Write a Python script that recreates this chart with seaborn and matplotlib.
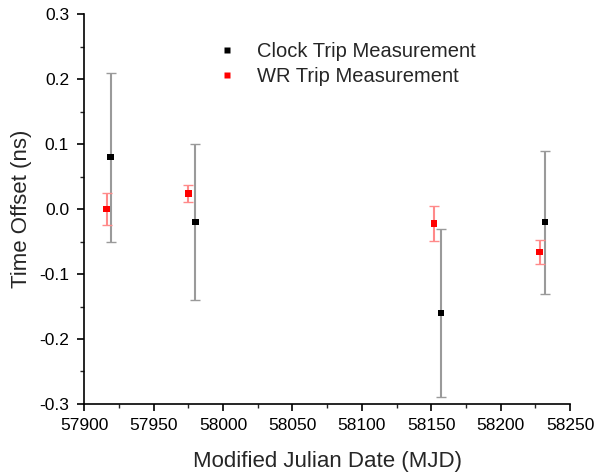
import pandas as pd
import seaborn as sns
import matplotlib
matplotlib.use('Agg')
from matplotlib import pyplot as plt
from matplotlib.ticker import MultipleLocator

# clock trip measurements
CLOCK_MJD = [57919, 57980, 58157, 58232]
CLOCK_OFFSET = [0.08, -0.02, -0.16, -0.02]
CLOCK_ERR = [0.13, 0.12, 0.13, 0.11]

# white rabbit trip measurements
WR_MJD = [57916, 57975, 58152, 58228]
WR_OFFSET = [0.0, 0.024, -0.022, -0.066]
WR_ERR = [0.025, 0.0125, 0.027, 0.019]

X_TICKS = [57900, 57950, 58000, 58050, 58100, 58150, 58200, 58250]
Y_TICKS = [-0.3, -0.2, -0.1, 0.0, 0.1, 0.2, 0.3]


def main():
    sns.set_style('ticks')
    plt.rcParams['font.family'] = ['Liberation Sans', 'DejaVu Sans']

    clock = pd.DataFrame({'MJD': CLOCK_MJD, 'OFFSET': CLOCK_OFFSET, 'ERR': CLOCK_ERR,
                          'SERIES': 'Clock Trip Measurement'})
    wr = pd.DataFrame({'MJD': WR_MJD, 'OFFSET': WR_OFFSET, 'ERR': WR_ERR,
                       'SERIES': 'WR Trip Measurement'})
    df = pd.concat([clock, wr], ignore_index=True)

    fig = plt.figure(figsize=(6.11, 4.73), dpi=100)
    ax = fig.add_axes([0.138, 0.146, 0.795, 0.824])

    # error bars: light bar lines, darker caps
    for data, bar_col, cap_col in ((clock, '#9a9a9a', '#404040'),
                                   (wr, '#ff8a8a', '#ff3030')):
        _, caps, bars = ax.errorbar(data['MJD'], data['OFFSET'], yerr=data['ERR'],
                                    fmt='none', capsize=3.5, elinewidth=1.5,
                                    capthick=1.0, ecolor=bar_col, zorder=1)
        for c in caps:
            c.set_color(cap_col)

    sns.scatterplot(x='MJD', y='OFFSET', hue='SERIES', data=df, marker='s', s=22,
                    palette={'Clock Trip Measurement': 'black', 'WR Trip Measurement': 'red'},
                    edgecolor='none', ax=ax, zorder=3)

    ax.set_xlim(57900, 58250)
    ax.set_ylim(-0.3, 0.3)
    ax.set_xticks(X_TICKS)
    ax.set_yticks(Y_TICKS)
    ax.set_xticklabels([str(t) for t in X_TICKS])
    ax.set_yticklabels([f'{t:.1f}' for t in Y_TICKS])
    ax.xaxis.set_minor_locator(MultipleLocator(25))
    ax.yaxis.set_minor_locator(MultipleLocator(0.05))
    ax.tick_params(which='major', direction='out', length=5, width=1.2, labelsize=12.5, colors='black')
    ax.tick_params(which='minor', direction='out', length=3, width=1.0)
    ax.tick_params(axis='x', which='major', pad=5)
    ax.tick_params(axis='y', which='major', pad=6)

    for side in ('top', 'right'):
        ax.spines[side].set_visible(False)
    for side in ('left', 'bottom'):
        ax.spines[side].set_linewidth(1.2)
        ax.spines[side].set_color('black')

    ax.set_xlabel('Modified Julian Date (MJD)', fontsize=16, labelpad=13)
    ax.set_ylabel('Time Offset (ns)', fontsize=16, labelpad=5)

    ax.legend(loc='upper left', bbox_to_anchor=(0.215, 0.975), frameon=False,
              fontsize=14.5, markerscale=0.8, handletextpad=0.5, labelspacing=0.3,
              title=None)

    fig.savefig('out.png', dpi=100)


if __name__ == '__main__':
    main()
